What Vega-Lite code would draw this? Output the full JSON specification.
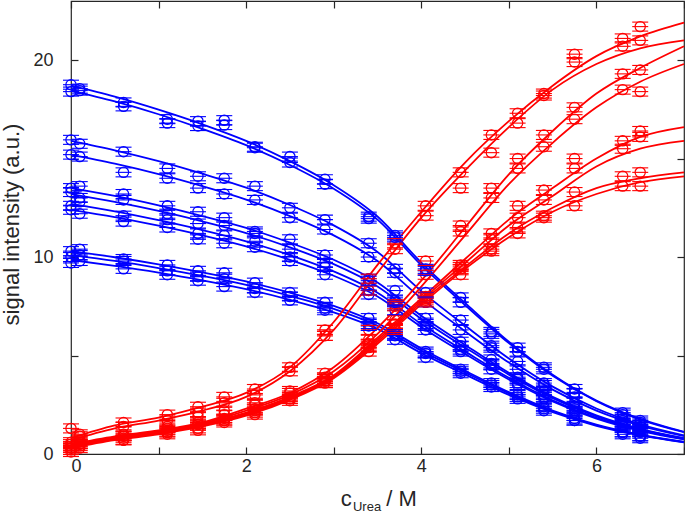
{
  "$schema": "https://vega.github.io/schema/vega-lite/v6.json",
  "width": 613,
  "height": 453,
  "autosize": "none",
  "padding": {"left": 71, "top": 1, "right": 1, "bottom": 61},
  "config": {
    "font": "Liberation Sans",
    "view": {"stroke": "#262626", "strokeWidth": 1.2},
    "axis": {
      "grid": false,
      "domain": false,
      "labelFont": "Liberation Sans",
      "labelFontSize": 18,
      "labelColor": "#262626",
      "tickColor": "#262626",
      "tickSize": -7,
      "tickWidth": 1.2,
      "titleFont": "Liberation Sans",
      "titleFontSize": 22,
      "titleFontWeight": "normal",
      "titleColor": "#262626"
    }
  },
  "datasets": {
    "fit": [
      {"g":"b","s":"b01","x":0,"y":18.7},{"g":"b","s":"b01","x":0.5,"y":18.14},{"g":"b","s":"b01","x":1,"y":17.48},{"g":"b","s":"b01","x":1.5,"y":16.74},{"g":"b","s":"b01","x":2,"y":15.9},{"g":"b","s":"b01","x":2.5,"y":14.87},{"g":"b","s":"b01","x":3,"y":13.65},{"g":"b","s":"b01","x":3.5,"y":12.06},{"g":"b","s":"b01","x":4,"y":9.72},{"g":"b","s":"b01","x":4.5,"y":7.67},{"g":"b","s":"b01","x":5,"y":5.7},{"g":"b","s":"b01","x":5.5,"y":4.02},{"g":"b","s":"b01","x":6,"y":2.71},{"g":"b","s":"b01","x":6.5,"y":1.78},{"g":"b","s":"b01","x":7,"y":1.12},
      {"g":"b","s":"b02","x":0,"y":18.45},{"g":"b","s":"b02","x":0.5,"y":17.9},{"g":"b","s":"b02","x":1,"y":17.25},{"g":"b","s":"b02","x":1.5,"y":16.51},{"g":"b","s":"b02","x":2,"y":15.68},{"g":"b","s":"b02","x":2.5,"y":14.67},{"g":"b","s":"b02","x":3,"y":13.47},{"g":"b","s":"b02","x":3.5,"y":11.9},{"g":"b","s":"b02","x":4,"y":9.59},{"g":"b","s":"b02","x":4.5,"y":7.56},{"g":"b","s":"b02","x":5,"y":5.63},{"g":"b","s":"b02","x":5.5,"y":3.97},{"g":"b","s":"b02","x":6,"y":2.68},{"g":"b","s":"b02","x":6.5,"y":1.75},{"g":"b","s":"b02","x":7,"y":1.11},
      {"g":"b","s":"b03","x":0,"y":15.9},{"g":"b","s":"b03","x":0.5,"y":15.42},{"g":"b","s":"b03","x":1,"y":14.87},{"g":"b","s":"b03","x":1.5,"y":14.23},{"g":"b","s":"b03","x":2,"y":13.52},{"g":"b","s":"b03","x":2.5,"y":12.64},{"g":"b","s":"b03","x":3,"y":11.61},{"g":"b","s":"b03","x":3.5,"y":10.26},{"g":"b","s":"b03","x":4,"y":8.27},{"g":"b","s":"b03","x":4.5,"y":6.52},{"g":"b","s":"b03","x":5,"y":4.85},{"g":"b","s":"b03","x":5.5,"y":3.42},{"g":"b","s":"b03","x":6,"y":2.31},{"g":"b","s":"b03","x":6.5,"y":1.51},{"g":"b","s":"b03","x":7,"y":0.95},
      {"g":"b","s":"b04","x":0,"y":15.2},{"g":"b","s":"b04","x":0.5,"y":14.74},{"g":"b","s":"b04","x":1,"y":14.21},{"g":"b","s":"b04","x":1.5,"y":13.6},{"g":"b","s":"b04","x":2,"y":12.92},{"g":"b","s":"b04","x":2.5,"y":12.08},{"g":"b","s":"b04","x":3,"y":11.1},{"g":"b","s":"b04","x":3.5,"y":9.8},{"g":"b","s":"b04","x":4,"y":7.9},{"g":"b","s":"b04","x":4.5,"y":6.23},{"g":"b","s":"b04","x":5,"y":4.64},{"g":"b","s":"b04","x":5.5,"y":3.27},{"g":"b","s":"b04","x":6,"y":2.2},{"g":"b","s":"b04","x":6.5,"y":1.44},{"g":"b","s":"b04","x":7,"y":0.91},
      {"g":"b","s":"b05","x":0,"y":13.5},{"g":"b","s":"b05","x":0.5,"y":13.1},{"g":"b","s":"b05","x":1,"y":12.62},{"g":"b","s":"b05","x":1.5,"y":12.08},{"g":"b","s":"b05","x":2,"y":11.48},{"g":"b","s":"b05","x":2.5,"y":10.73},{"g":"b","s":"b05","x":3,"y":9.86},{"g":"b","s":"b05","x":3.5,"y":8.71},{"g":"b","s":"b05","x":4,"y":7.02},{"g":"b","s":"b05","x":4.5,"y":5.54},{"g":"b","s":"b05","x":5,"y":4.12},{"g":"b","s":"b05","x":5.5,"y":2.9},{"g":"b","s":"b05","x":6,"y":1.96},{"g":"b","s":"b05","x":6.5,"y":1.28},{"g":"b","s":"b05","x":7,"y":0.81},
      {"g":"b","s":"b06","x":0,"y":13.2},{"g":"b","s":"b06","x":0.5,"y":12.8},{"g":"b","s":"b06","x":1,"y":12.34},{"g":"b","s":"b06","x":1.5,"y":11.81},{"g":"b","s":"b06","x":2,"y":11.22},{"g":"b","s":"b06","x":2.5,"y":10.49},{"g":"b","s":"b06","x":3,"y":9.64},{"g":"b","s":"b06","x":3.5,"y":8.51},{"g":"b","s":"b06","x":4,"y":6.86},{"g":"b","s":"b06","x":4.5,"y":5.41},{"g":"b","s":"b06","x":5,"y":4.03},{"g":"b","s":"b06","x":5.5,"y":2.84},{"g":"b","s":"b06","x":6,"y":1.91},{"g":"b","s":"b06","x":6.5,"y":1.25},{"g":"b","s":"b06","x":7,"y":0.79},
      {"g":"b","s":"b07","x":0,"y":12.7},{"g":"b","s":"b07","x":0.5,"y":12.32},{"g":"b","s":"b07","x":1,"y":11.87},{"g":"b","s":"b07","x":1.5,"y":11.37},{"g":"b","s":"b07","x":2,"y":10.8},{"g":"b","s":"b07","x":2.5,"y":10.1},{"g":"b","s":"b07","x":3,"y":9.27},{"g":"b","s":"b07","x":3.5,"y":8.19},{"g":"b","s":"b07","x":4,"y":6.6},{"g":"b","s":"b07","x":4.5,"y":5.21},{"g":"b","s":"b07","x":5,"y":3.87},{"g":"b","s":"b07","x":5.5,"y":2.73},{"g":"b","s":"b07","x":6,"y":1.84},{"g":"b","s":"b07","x":6.5,"y":1.21},{"g":"b","s":"b07","x":7,"y":0.76},
      {"g":"b","s":"b08","x":0,"y":12.4},{"g":"b","s":"b08","x":0.5,"y":12.03},{"g":"b","s":"b08","x":1,"y":11.59},{"g":"b","s":"b08","x":1.5,"y":11.1},{"g":"b","s":"b08","x":2,"y":10.54},{"g":"b","s":"b08","x":2.5,"y":9.86},{"g":"b","s":"b08","x":3,"y":9.05},{"g":"b","s":"b08","x":3.5,"y":8.0},{"g":"b","s":"b08","x":4,"y":6.45},{"g":"b","s":"b08","x":4.5,"y":5.08},{"g":"b","s":"b08","x":5,"y":3.78},{"g":"b","s":"b08","x":5.5,"y":2.67},{"g":"b","s":"b08","x":6,"y":1.8},{"g":"b","s":"b08","x":6.5,"y":1.18},{"g":"b","s":"b08","x":7,"y":0.74},
      {"g":"b","s":"b09","x":0,"y":10.3},{"g":"b","s":"b09","x":0.5,"y":9.99},{"g":"b","s":"b09","x":1,"y":9.63},{"g":"b","s":"b09","x":1.5,"y":9.22},{"g":"b","s":"b09","x":2,"y":8.76},{"g":"b","s":"b09","x":2.5,"y":8.19},{"g":"b","s":"b09","x":3,"y":7.52},{"g":"b","s":"b09","x":3.5,"y":6.64},{"g":"b","s":"b09","x":4,"y":5.36},{"g":"b","s":"b09","x":4.5,"y":4.22},{"g":"b","s":"b09","x":5,"y":3.14},{"g":"b","s":"b09","x":5.5,"y":2.21},{"g":"b","s":"b09","x":6,"y":1.49},{"g":"b","s":"b09","x":6.5,"y":0.98},{"g":"b","s":"b09","x":7,"y":0.62},
      {"g":"b","s":"b10","x":0,"y":10.1},{"g":"b","s":"b10","x":0.5,"y":9.8},{"g":"b","s":"b10","x":1,"y":9.44},{"g":"b","s":"b10","x":1.5,"y":9.04},{"g":"b","s":"b10","x":2,"y":8.59},{"g":"b","s":"b10","x":2.5,"y":8.03},{"g":"b","s":"b10","x":3,"y":7.37},{"g":"b","s":"b10","x":3.5,"y":6.51},{"g":"b","s":"b10","x":4,"y":5.25},{"g":"b","s":"b10","x":4.5,"y":4.14},{"g":"b","s":"b10","x":5,"y":3.08},{"g":"b","s":"b10","x":5.5,"y":2.17},{"g":"b","s":"b10","x":6,"y":1.46},{"g":"b","s":"b10","x":6.5,"y":0.96},{"g":"b","s":"b10","x":7,"y":0.61},
      {"g":"b","s":"b11","x":0,"y":9.85},{"g":"b","s":"b11","x":0.5,"y":9.55},{"g":"b","s":"b11","x":1,"y":9.21},{"g":"b","s":"b11","x":1.5,"y":8.82},{"g":"b","s":"b11","x":2,"y":8.37},{"g":"b","s":"b11","x":2.5,"y":7.83},{"g":"b","s":"b11","x":3,"y":7.19},{"g":"b","s":"b11","x":3.5,"y":6.35},{"g":"b","s":"b11","x":4,"y":5.12},{"g":"b","s":"b11","x":4.5,"y":4.04},{"g":"b","s":"b11","x":5,"y":3.0},{"g":"b","s":"b11","x":5.5,"y":2.12},{"g":"b","s":"b11","x":6,"y":1.43},{"g":"b","s":"b11","x":6.5,"y":0.94},{"g":"b","s":"b11","x":7,"y":0.59},
      {"g":"r","s":"r1","x":0,"y":0.8},{"g":"r","s":"r1","x":0.5,"y":1.45},{"g":"r","s":"r1","x":1,"y":1.85},{"g":"r","s":"r1","x":1.5,"y":2.4},{"g":"r","s":"r1","x":2,"y":3.1},{"g":"r","s":"r1","x":2.5,"y":4.4},{"g":"r","s":"r1","x":3,"y":6.7},{"g":"r","s":"r1","x":3.5,"y":9.6},{"g":"r","s":"r1","x":4,"y":12.3},{"g":"r","s":"r1","x":4.5,"y":14.8},{"g":"r","s":"r1","x":5,"y":16.9},{"g":"r","s":"r1","x":5.5,"y":18.7},{"g":"r","s":"r1","x":6,"y":20.2},{"g":"r","s":"r1","x":6.5,"y":21.2},{"g":"r","s":"r1","x":7,"y":21.9},
      {"g":"r","s":"r2","x":0,"y":0.7},{"g":"r","s":"r2","x":0.5,"y":1.3},{"g":"r","s":"r2","x":1,"y":1.7},{"g":"r","s":"r2","x":1.5,"y":2.2},{"g":"r","s":"r2","x":2,"y":2.9},{"g":"r","s":"r2","x":2.5,"y":4.2},{"g":"r","s":"r2","x":3,"y":6.3},{"g":"r","s":"r2","x":3.5,"y":9.2},{"g":"r","s":"r2","x":4,"y":12.0},{"g":"r","s":"r2","x":4.5,"y":14.4},{"g":"r","s":"r2","x":5,"y":16.6},{"g":"r","s":"r2","x":5.5,"y":18.5},{"g":"r","s":"r2","x":6,"y":19.8},{"g":"r","s":"r2","x":6.5,"y":20.6},{"g":"r","s":"r2","x":7,"y":21.0},
      {"g":"r","s":"r3","x":0,"y":0.5},{"g":"r","s":"r3","x":0.5,"y":0.9},{"g":"r","s":"r3","x":1,"y":1.2},{"g":"r","s":"r3","x":1.5,"y":1.6},{"g":"r","s":"r3","x":2,"y":2.3},{"g":"r","s":"r3","x":2.5,"y":3.1},{"g":"r","s":"r3","x":3,"y":4.4},{"g":"r","s":"r3","x":3.5,"y":6.4},{"g":"r","s":"r3","x":4,"y":8.8},{"g":"r","s":"r3","x":4.5,"y":11.5},{"g":"r","s":"r3","x":5,"y":14.2},{"g":"r","s":"r3","x":5.5,"y":16.4},{"g":"r","s":"r3","x":6,"y":18.3},{"g":"r","s":"r3","x":6.5,"y":19.6},{"g":"r","s":"r3","x":7,"y":20.7},
      {"g":"r","s":"r4","x":0,"y":0.45},{"g":"r","s":"r4","x":0.5,"y":0.85},{"g":"r","s":"r4","x":1,"y":1.15},{"g":"r","s":"r4","x":1.5,"y":1.55},{"g":"r","s":"r4","x":2,"y":2.2},{"g":"r","s":"r4","x":2.5,"y":3.0},{"g":"r","s":"r4","x":3,"y":4.2},{"g":"r","s":"r4","x":3.5,"y":6.1},{"g":"r","s":"r4","x":4,"y":8.5},{"g":"r","s":"r4","x":4.5,"y":11.1},{"g":"r","s":"r4","x":5,"y":13.7},{"g":"r","s":"r4","x":5.5,"y":15.8},{"g":"r","s":"r4","x":6,"y":17.6},{"g":"r","s":"r4","x":6.5,"y":18.9},{"g":"r","s":"r4","x":7,"y":19.8},
      {"g":"r","s":"r5","x":0,"y":0.4},{"g":"r","s":"r5","x":0.5,"y":0.8},{"g":"r","s":"r5","x":1,"y":1.1},{"g":"r","s":"r5","x":1.5,"y":1.5},{"g":"r","s":"r5","x":2,"y":2.1},{"g":"r","s":"r5","x":2.5,"y":2.9},{"g":"r","s":"r5","x":3,"y":4.0},{"g":"r","s":"r5","x":3.5,"y":5.9},{"g":"r","s":"r5","x":4,"y":7.9},{"g":"r","s":"r5","x":4.5,"y":9.9},{"g":"r","s":"r5","x":5,"y":11.9},{"g":"r","s":"r5","x":5.5,"y":13.5},{"g":"r","s":"r5","x":6,"y":15.0},{"g":"r","s":"r5","x":6.5,"y":16.1},{"g":"r","s":"r5","x":7,"y":16.6},
      {"g":"r","s":"r6","x":0,"y":0.4},{"g":"r","s":"r6","x":0.5,"y":0.75},{"g":"r","s":"r6","x":1,"y":1.05},{"g":"r","s":"r6","x":1.5,"y":1.45},{"g":"r","s":"r6","x":2,"y":2.05},{"g":"r","s":"r6","x":2.5,"y":2.85},{"g":"r","s":"r6","x":3,"y":3.95},{"g":"r","s":"r6","x":3.5,"y":5.8},{"g":"r","s":"r6","x":4,"y":7.8},{"g":"r","s":"r6","x":4.5,"y":9.7},{"g":"r","s":"r6","x":5,"y":11.6},{"g":"r","s":"r6","x":5.5,"y":13.1},{"g":"r","s":"r6","x":6,"y":14.6},{"g":"r","s":"r6","x":6.5,"y":15.5},{"g":"r","s":"r6","x":7,"y":15.9},
      {"g":"r","s":"r7","x":0,"y":0.35},{"g":"r","s":"r7","x":0.5,"y":0.75},{"g":"r","s":"r7","x":1,"y":1.05},{"g":"r","s":"r7","x":1.5,"y":1.45},{"g":"r","s":"r7","x":2,"y":2.0},{"g":"r","s":"r7","x":2.5,"y":2.8},{"g":"r","s":"r7","x":3,"y":3.9},{"g":"r","s":"r7","x":3.5,"y":5.7},{"g":"r","s":"r7","x":4,"y":7.7},{"g":"r","s":"r7","x":4.5,"y":9.5},{"g":"r","s":"r7","x":5,"y":11.2},{"g":"r","s":"r7","x":5.5,"y":12.5},{"g":"r","s":"r7","x":6,"y":13.5},{"g":"r","s":"r7","x":6.5,"y":14.0},{"g":"r","s":"r7","x":7,"y":14.3},
      {"g":"r","s":"r8","x":0,"y":0.3},{"g":"r","s":"r8","x":0.5,"y":0.7},{"g":"r","s":"r8","x":1,"y":1.0},{"g":"r","s":"r8","x":1.5,"y":1.4},{"g":"r","s":"r8","x":2,"y":1.95},{"g":"r","s":"r8","x":2.5,"y":2.75},{"g":"r","s":"r8","x":3,"y":3.85},{"g":"r","s":"r8","x":3.5,"y":5.6},{"g":"r","s":"r8","x":4,"y":7.6},{"g":"r","s":"r8","x":4.5,"y":9.4},{"g":"r","s":"r8","x":5,"y":11.0},{"g":"r","s":"r8","x":5.5,"y":12.3},{"g":"r","s":"r8","x":6,"y":13.2},{"g":"r","s":"r8","x":6.5,"y":13.8},{"g":"r","s":"r8","x":7,"y":14.1}
    ],
    "pts": [
      {"g":"b","x":0,"y":18.75},{"g":"b","x":0.1,"y":18.55},{"g":"b","x":0.6,"y":17.85},{"g":"b","x":1.1,"y":17.0},{"g":"b","x":1.45,"y":16.9},{"g":"b","x":1.75,"y":16.95},{"g":"b","x":2.1,"y":15.6},{"g":"b","x":2.5,"y":15.1},{"g":"b","x":2.9,"y":13.95},{"g":"b","x":3.4,"y":11.95},{"g":"b","x":3.7,"y":11.1},{"g":"b","x":4.05,"y":9.4},{"g":"b","x":4.45,"y":7.95},{"g":"b","x":4.8,"y":6.2},{"g":"b","x":5.1,"y":5.4},{"g":"b","x":5.4,"y":4.4},{"g":"b","x":5.75,"y":3.3},{"g":"b","x":6.3,"y":2.0},{"g":"b","x":6.5,"y":1.6},
      {"g":"b","x":0,"y":18.4},{"g":"b","x":0.1,"y":18.45},{"g":"b","x":0.6,"y":17.65},{"g":"b","x":1.1,"y":16.8},{"g":"b","x":1.45,"y":16.65},{"g":"b","x":1.75,"y":16.7},{"g":"b","x":2.1,"y":15.55},{"g":"b","x":2.5,"y":14.8},{"g":"b","x":2.9,"y":13.7},{"g":"b","x":3.4,"y":12.05},{"g":"b","x":3.7,"y":11.0},{"g":"b","x":4.05,"y":9.3},{"g":"b","x":4.45,"y":7.7},{"g":"b","x":4.8,"y":6.1},{"g":"b","x":5.1,"y":5.2},{"g":"b","x":5.4,"y":4.3},{"g":"b","x":5.75,"y":3.1},{"g":"b","x":6.3,"y":2.1},{"g":"b","x":6.5,"y":1.7},
      {"g":"b","x":0,"y":15.95},{"g":"b","x":0.1,"y":15.75},{"g":"b","x":0.6,"y":15.35},{"g":"b","x":1.1,"y":14.5},{"g":"b","x":1.45,"y":14.1},{"g":"b","x":1.75,"y":14.0},{"g":"b","x":2.1,"y":13.6},{"g":"b","x":2.5,"y":12.5},{"g":"b","x":2.9,"y":11.9},{"g":"b","x":3.4,"y":10.7},{"g":"b","x":3.7,"y":9.4},{"g":"b","x":4.05,"y":8.2},{"g":"b","x":4.45,"y":6.8},{"g":"b","x":4.8,"y":5.5},{"g":"b","x":5.1,"y":4.7},{"g":"b","x":5.4,"y":3.6},{"g":"b","x":5.75,"y":2.9},{"g":"b","x":6.3,"y":1.8},{"g":"b","x":6.5,"y":1.5},
      {"g":"b","x":0,"y":15.2},{"g":"b","x":0.1,"y":15.1},{"g":"b","x":0.6,"y":14.3},{"g":"b","x":1.1,"y":14.0},{"g":"b","x":1.45,"y":13.5},{"g":"b","x":1.75,"y":13.2},{"g":"b","x":2.1,"y":12.9},{"g":"b","x":2.5,"y":12.0},{"g":"b","x":2.9,"y":11.4},{"g":"b","x":3.4,"y":10.0},{"g":"b","x":3.7,"y":9.2},{"g":"b","x":4.05,"y":7.7},{"g":"b","x":4.45,"y":6.3},{"g":"b","x":4.8,"y":5.4},{"g":"b","x":5.1,"y":4.3},{"g":"b","x":5.4,"y":3.5},{"g":"b","x":5.75,"y":2.6},{"g":"b","x":6.3,"y":1.7},{"g":"b","x":6.5,"y":1.4},
      {"g":"b","x":0,"y":13.5},{"g":"b","x":0.1,"y":13.6},{"g":"b","x":0.6,"y":13.2},{"g":"b","x":1.1,"y":12.6},{"g":"b","x":1.45,"y":12.3},{"g":"b","x":1.75,"y":12.0},{"g":"b","x":2.1,"y":11.3},{"g":"b","x":2.5,"y":10.9},{"g":"b","x":2.9,"y":10.1},{"g":"b","x":3.4,"y":8.8},{"g":"b","x":3.7,"y":8.3},{"g":"b","x":4.05,"y":6.9},{"g":"b","x":4.45,"y":5.7},{"g":"b","x":4.8,"y":4.8},{"g":"b","x":5.1,"y":3.9},{"g":"b","x":5.4,"y":3.2},{"g":"b","x":5.75,"y":2.4},{"g":"b","x":6.3,"y":1.5},{"g":"b","x":6.5,"y":1.3},
      {"g":"b","x":0,"y":13.3},{"g":"b","x":0.1,"y":13.0},{"g":"b","x":0.6,"y":12.9},{"g":"b","x":1.1,"y":12.2},{"g":"b","x":1.45,"y":11.7},{"g":"b","x":1.75,"y":11.6},{"g":"b","x":2.1,"y":11.2},{"g":"b","x":2.5,"y":10.4},{"g":"b","x":2.9,"y":9.7},{"g":"b","x":3.4,"y":8.9},{"g":"b","x":3.7,"y":7.8},{"g":"b","x":4.05,"y":6.6},{"g":"b","x":4.45,"y":5.5},{"g":"b","x":4.8,"y":4.6},{"g":"b","x":5.1,"y":3.8},{"g":"b","x":5.4,"y":3.0},{"g":"b","x":5.75,"y":2.3},{"g":"b","x":6.3,"y":1.5},{"g":"b","x":6.5,"y":1.2},
      {"g":"b","x":0,"y":12.6},{"g":"b","x":0.1,"y":12.8},{"g":"b","x":0.6,"y":12.1},{"g":"b","x":1.1,"y":11.9},{"g":"b","x":1.45,"y":11.2},{"g":"b","x":1.75,"y":11.1},{"g":"b","x":2.1,"y":10.8},{"g":"b","x":2.5,"y":10.0},{"g":"b","x":2.9,"y":9.5},{"g":"b","x":3.4,"y":8.3},{"g":"b","x":3.7,"y":7.7},{"g":"b","x":4.05,"y":6.5},{"g":"b","x":4.45,"y":5.3},{"g":"b","x":4.8,"y":4.5},{"g":"b","x":5.1,"y":3.6},{"g":"b","x":5.4,"y":2.9},{"g":"b","x":5.75,"y":2.2},{"g":"b","x":6.3,"y":1.4},{"g":"b","x":6.5,"y":1.2},
      {"g":"b","x":0,"y":12.4},{"g":"b","x":0.1,"y":12.2},{"g":"b","x":0.6,"y":11.8},{"g":"b","x":1.1,"y":11.5},{"g":"b","x":1.45,"y":10.9},{"g":"b","x":1.75,"y":10.7},{"g":"b","x":2.1,"y":10.5},{"g":"b","x":2.5,"y":9.8},{"g":"b","x":2.9,"y":9.1},{"g":"b","x":3.4,"y":8.1},{"g":"b","x":3.7,"y":7.3},{"g":"b","x":4.05,"y":6.3},{"g":"b","x":4.45,"y":5.2},{"g":"b","x":4.8,"y":4.3},{"g":"b","x":5.1,"y":3.5},{"g":"b","x":5.4,"y":2.8},{"g":"b","x":5.75,"y":2.1},{"g":"b","x":6.3,"y":1.4},{"g":"b","x":6.5,"y":1.1},
      {"g":"b","x":0,"y":10.3},{"g":"b","x":0.1,"y":10.4},{"g":"b","x":0.6,"y":9.9},{"g":"b","x":1.1,"y":9.6},{"g":"b","x":1.45,"y":9.3},{"g":"b","x":1.75,"y":9.2},{"g":"b","x":2.1,"y":8.7},{"g":"b","x":2.5,"y":8.2},{"g":"b","x":2.9,"y":7.7},{"g":"b","x":3.4,"y":6.9},{"g":"b","x":3.7,"y":6.1},{"g":"b","x":4.05,"y":5.2},{"g":"b","x":4.45,"y":4.3},{"g":"b","x":4.8,"y":3.6},{"g":"b","x":5.1,"y":3.0},{"g":"b","x":5.4,"y":2.4},{"g":"b","x":5.75,"y":1.8},{"g":"b","x":6.3,"y":1.1},{"g":"b","x":6.5,"y":0.9},
      {"g":"b","x":0,"y":10.0},{"g":"b","x":0.1,"y":10.1},{"g":"b","x":0.6,"y":9.8},{"g":"b","x":1.1,"y":9.3},{"g":"b","x":1.45,"y":9.0},{"g":"b","x":1.75,"y":8.9},{"g":"b","x":2.1,"y":8.4},{"g":"b","x":2.5,"y":8.0},{"g":"b","x":2.9,"y":7.4},{"g":"b","x":3.4,"y":6.6},{"g":"b","x":3.7,"y":6.0},{"g":"b","x":4.05,"y":5.1},{"g":"b","x":4.45,"y":4.2},{"g":"b","x":4.8,"y":3.5},{"g":"b","x":5.1,"y":2.9},{"g":"b","x":5.4,"y":2.3},{"g":"b","x":5.75,"y":1.7},{"g":"b","x":6.3,"y":1.1},{"g":"b","x":6.5,"y":0.9},
      {"g":"b","x":0,"y":9.7},{"g":"b","x":0.1,"y":9.8},{"g":"b","x":0.6,"y":9.4},{"g":"b","x":1.1,"y":9.1},{"g":"b","x":1.45,"y":8.8},{"g":"b","x":1.75,"y":8.5},{"g":"b","x":2.1,"y":8.2},{"g":"b","x":2.5,"y":7.8},{"g":"b","x":2.9,"y":7.3},{"g":"b","x":3.4,"y":6.5},{"g":"b","x":3.7,"y":5.8},{"g":"b","x":4.05,"y":4.9},{"g":"b","x":4.45,"y":4.1},{"g":"b","x":4.8,"y":3.4},{"g":"b","x":5.1,"y":2.8},{"g":"b","x":5.4,"y":2.2},{"g":"b","x":5.75,"y":1.7},{"g":"b","x":6.3,"y":1.0},{"g":"b","x":6.5,"y":0.8},
      {"g":"r","x":0,"y":1.3},{"g":"r","x":0.1,"y":1.0},{"g":"r","x":0.6,"y":1.6},{"g":"r","x":1.1,"y":2.0},{"g":"r","x":1.45,"y":2.4},{"g":"r","x":1.75,"y":2.9},{"g":"r","x":2.1,"y":3.3},{"g":"r","x":2.5,"y":4.4},{"g":"r","x":2.9,"y":6.3},{"g":"r","x":3.4,"y":8.9},{"g":"r","x":3.7,"y":10.7},{"g":"r","x":4.05,"y":12.6},{"g":"r","x":4.45,"y":14.3},{"g":"r","x":4.8,"y":16.2},{"g":"r","x":5.1,"y":17.3},{"g":"r","x":5.4,"y":18.3},{"g":"r","x":5.75,"y":20.3},{"g":"r","x":6.3,"y":21.1},{"g":"r","x":6.5,"y":21.7},
      {"g":"r","x":0,"y":0.6},{"g":"r","x":0.1,"y":0.9},{"g":"r","x":0.6,"y":1.4},{"g":"r","x":1.1,"y":1.7},{"g":"r","x":1.45,"y":2.1},{"g":"r","x":1.75,"y":2.6},{"g":"r","x":2.1,"y":3.0},{"g":"r","x":2.5,"y":4.2},{"g":"r","x":2.9,"y":6.0},{"g":"r","x":3.4,"y":8.3},{"g":"r","x":3.7,"y":10.4},{"g":"r","x":4.05,"y":12.1},{"g":"r","x":4.45,"y":13.5},{"g":"r","x":4.8,"y":15.3},{"g":"r","x":5.1,"y":16.8},{"g":"r","x":5.4,"y":18.2},{"g":"r","x":5.75,"y":19.9},{"g":"r","x":6.3,"y":20.7},{"g":"r","x":6.5,"y":21.0},
      {"g":"r","x":0,"y":0.4},{"g":"r","x":0.1,"y":0.7},{"g":"r","x":0.6,"y":1.0},{"g":"r","x":1.1,"y":1.3},{"g":"r","x":1.45,"y":1.9},{"g":"r","x":1.75,"y":2.2},{"g":"r","x":2.1,"y":2.6},{"g":"r","x":2.5,"y":3.2},{"g":"r","x":2.9,"y":4.1},{"g":"r","x":3.4,"y":6.3},{"g":"r","x":3.7,"y":7.6},{"g":"r","x":4.05,"y":9.8},{"g":"r","x":4.45,"y":11.6},{"g":"r","x":4.8,"y":13.5},{"g":"r","x":5.1,"y":15.0},{"g":"r","x":5.4,"y":16.2},{"g":"r","x":5.75,"y":17.6},{"g":"r","x":6.3,"y":19.3},{"g":"r","x":6.5,"y":19.5},
      {"g":"r","x":0,"y":0.3},{"g":"r","x":0.1,"y":0.6},{"g":"r","x":0.6,"y":0.8},{"g":"r","x":1.1,"y":1.4},{"g":"r","x":1.45,"y":1.6},{"g":"r","x":1.75,"y":2.0},{"g":"r","x":2.1,"y":2.5},{"g":"r","x":2.5,"y":3.1},{"g":"r","x":2.9,"y":3.9},{"g":"r","x":3.4,"y":5.8},{"g":"r","x":3.7,"y":7.5},{"g":"r","x":4.05,"y":9.1},{"g":"r","x":4.45,"y":11.3},{"g":"r","x":4.8,"y":13.0},{"g":"r","x":5.1,"y":14.5},{"g":"r","x":5.4,"y":15.6},{"g":"r","x":5.75,"y":17.0},{"g":"r","x":6.3,"y":18.5},{"g":"r","x":6.5,"y":18.4},
      {"g":"r","x":0,"y":0.5},{"g":"r","x":0.1,"y":0.3},{"g":"r","x":0.6,"y":0.9},{"g":"r","x":1.1,"y":1.1},{"g":"r","x":1.45,"y":1.5},{"g":"r","x":1.75,"y":1.7},{"g":"r","x":2.1,"y":2.3},{"g":"r","x":2.5,"y":2.8},{"g":"r","x":2.9,"y":3.8},{"g":"r","x":3.4,"y":5.6},{"g":"r","x":3.7,"y":6.8},{"g":"r","x":4.05,"y":8.0},{"g":"r","x":4.45,"y":9.6},{"g":"r","x":4.8,"y":11.2},{"g":"r","x":5.1,"y":12.6},{"g":"r","x":5.4,"y":13.4},{"g":"r","x":5.75,"y":15.0},{"g":"r","x":6.3,"y":15.9},{"g":"r","x":6.5,"y":16.4},
      {"g":"r","x":0,"y":0.3},{"g":"r","x":0.1,"y":0.5},{"g":"r","x":0.6,"y":0.7},{"g":"r","x":1.1,"y":1.2},{"g":"r","x":1.45,"y":1.3},{"g":"r","x":1.75,"y":1.8},{"g":"r","x":2.1,"y":2.1},{"g":"r","x":2.5,"y":2.9},{"g":"r","x":2.9,"y":3.7},{"g":"r","x":3.4,"y":5.5},{"g":"r","x":3.7,"y":6.6},{"g":"r","x":4.05,"y":7.9},{"g":"r","x":4.45,"y":9.4},{"g":"r","x":4.8,"y":10.9},{"g":"r","x":5.1,"y":12.0},{"g":"r","x":5.4,"y":12.9},{"g":"r","x":5.75,"y":14.5},{"g":"r","x":6.3,"y":15.5},{"g":"r","x":6.5,"y":16.1},
      {"g":"r","x":0,"y":0.2},{"g":"r","x":0.1,"y":0.5},{"g":"r","x":0.6,"y":0.9},{"g":"r","x":1.1,"y":1.0},{"g":"r","x":1.45,"y":1.5},{"g":"r","x":1.75,"y":1.6},{"g":"r","x":2.1,"y":2.2},{"g":"r","x":2.5,"y":2.7},{"g":"r","x":2.9,"y":3.7},{"g":"r","x":3.4,"y":5.4},{"g":"r","x":3.7,"y":6.4},{"g":"r","x":4.05,"y":7.8},{"g":"r","x":4.45,"y":9.5},{"g":"r","x":4.8,"y":10.4},{"g":"r","x":5.1,"y":11.5},{"g":"r","x":5.4,"y":12.1},{"g":"r","x":5.75,"y":13.3},{"g":"r","x":6.3,"y":14.1},{"g":"r","x":6.5,"y":14.3},
      {"g":"r","x":0,"y":0.1},{"g":"r","x":0.1,"y":0.4},{"g":"r","x":0.6,"y":0.7},{"g":"r","x":1.1,"y":1.1},{"g":"r","x":1.45,"y":1.2},{"g":"r","x":1.75,"y":1.7},{"g":"r","x":2.1,"y":2.0},{"g":"r","x":2.5,"y":2.8},{"g":"r","x":2.9,"y":3.6},{"g":"r","x":3.4,"y":5.2},{"g":"r","x":3.7,"y":6.3},{"g":"r","x":4.05,"y":7.7},{"g":"r","x":4.45,"y":9.1},{"g":"r","x":4.8,"y":10.3},{"g":"r","x":5.1,"y":11.2},{"g":"r","x":5.4,"y":12.0},{"g":"r","x":5.75,"y":12.6},{"g":"r","x":6.3,"y":13.6},{"g":"r","x":6.5,"y":13.6}
    ]
  },
  "resolve": {"axis": {"x": "independent", "y": "independent"}},
  "layer": [
    {
      "data": {"name": "fit"},
      "mark": {"type": "line", "interpolate": "monotone", "strokeWidth": 1.8},
      "encoding": {
        "x": {"field": "x", "type": "quantitative", "scale": {"domain": [0, 7], "nice": false, "zero": false},
          "axis": {"orient": "bottom", "values": [0, 1, 2, 3, 4, 5, 6, 7], "labelExpr": "datum.value % 2 == 0 ? datum.label : ''", "labelPadding": 10, "title": null}},
        "y": {"field": "y", "type": "quantitative", "scale": {"domain": [0, 23], "nice": false, "zero": false},
          "axis": {"orient": "left", "values": [0, 5, 10, 15, 20], "labelExpr": "datum.value % 10 == 0 ? datum.label : ''", "labelPadding": 25,
            "title": "signal intensity (a.u.)", "titleAngle": -90, "titleX": -53, "titleY": 223, "titleAlign": "center", "titleBaseline": "alphabetic"}},
        "color": {"field": "g", "type": "nominal", "scale": {"domain": ["b", "r"], "range": ["#0000ff", "#ff0000"]}, "legend": null},
        "detail": {"field": "s", "type": "nominal"}
      }
    },
    {
      "data": {"name": "pts"},
      "mark": {"type": "point", "shape": "circle", "filled": false, "size": 105, "strokeWidth": 1.2, "opacity": 1},
      "encoding": {
        "x": {"field": "x", "type": "quantitative",
          "axis": {"orient": "top", "values": [0, 1, 2, 3, 4, 5, 6, 7], "labels": false, "title": null}},
        "y": {"field": "y", "type": "quantitative",
          "axis": {"orient": "right", "values": [0, 5, 10, 15, 20], "labels": false, "title": null}},
        "color": {"field": "g", "type": "nominal", "legend": null}
      }
    },
    {
      "data": {"name": "pts"},
      "mark": {"type": "tick", "orient": "horizontal", "size": 16, "thickness": 1.1, "opacity": 1},
      "encoding": {
        "x": {"field": "x", "type": "quantitative", "axis": null},
        "y": {"field": "y", "type": "quantitative", "axis": null},
        "color": {"field": "g", "type": "nominal", "legend": null}
      }
    },
    {
      "data": {"name": "pts"},
      "mark": {"type": "tick", "orient": "horizontal", "size": 16, "thickness": 1.1, "opacity": 1, "yOffset": -4.5},
      "encoding": {
        "x": {"field": "x", "type": "quantitative", "axis": null},
        "y": {"field": "y", "type": "quantitative", "axis": null},
        "color": {"field": "g", "type": "nominal", "legend": null}
      }
    },
    {
      "data": {"name": "pts"},
      "mark": {"type": "tick", "orient": "horizontal", "size": 16, "thickness": 1.1, "opacity": 1, "yOffset": 4.5},
      "encoding": {
        "x": {"field": "x", "type": "quantitative", "axis": null},
        "y": {"field": "y", "type": "quantitative", "axis": null},
        "color": {"field": "g", "type": "nominal", "legend": null}
      }
    },
    {
      "data": {"values": [{}]},
      "mark": {"type": "text", "align": "left", "baseline": "alphabetic", "fontSize": 22, "color": "#262626"},
      "encoding": {
        "x": {"datum": 3.08, "type": "quantitative", "axis": null},
        "y": {"datum": -2.65, "type": "quantitative", "axis": null},
        "text": {"value": "c"}
      }
    },
    {
      "data": {"values": [{}]},
      "mark": {"type": "text", "align": "left", "baseline": "alphabetic", "fontSize": 13, "color": "#262626"},
      "encoding": {
        "x": {"datum": 3.22, "type": "quantitative", "axis": null},
        "y": {"datum": -2.88, "type": "quantitative", "axis": null},
        "text": {"value": "Urea"}
      }
    },
    {
      "data": {"values": [{}]},
      "mark": {"type": "text", "align": "left", "baseline": "alphabetic", "fontSize": 22, "color": "#262626"},
      "encoding": {
        "x": {"datum": 3.6, "type": "quantitative", "axis": null},
        "y": {"datum": -2.65, "type": "quantitative", "axis": null},
        "text": {"value": "/ M"}
      }
    }
  ]
}
